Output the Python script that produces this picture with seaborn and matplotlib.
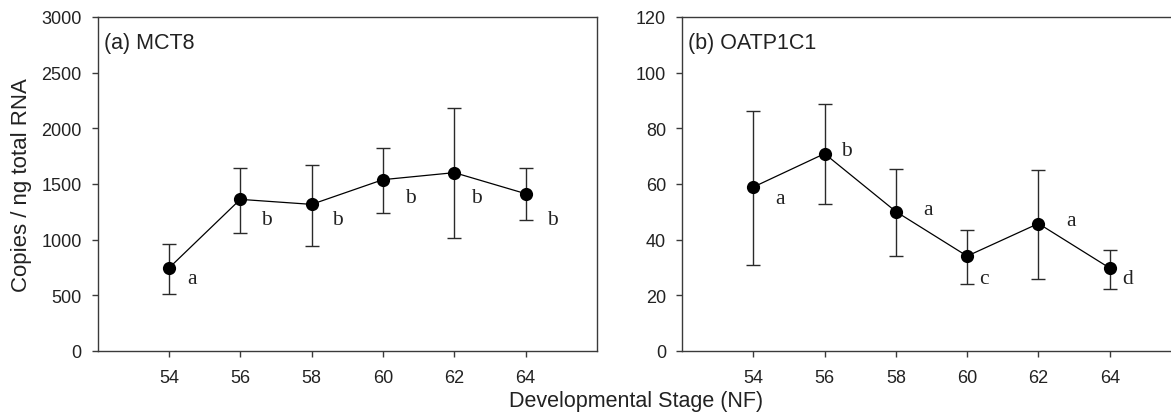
import numpy as np
import pandas as pd
import matplotlib
matplotlib.use("Agg")
import matplotlib.pyplot as plt
import seaborn as sns

# ---- data ----
stages = [54, 56, 58, 60, 62, 64]

mct8_mean = [745, 1362, 1317, 1539, 1602, 1413]
mct8_low = [514, 1061, 941, 1241, 1016, 1181]
mct8_high = [962, 1647, 1671, 1822, 2182, 1644]
mct8_letters = ["a", "b", "b", "b", "b", "b"]
mct8_letter_x = [54.65, 56.73, 58.72, 60.78, 62.61, 64.75]
mct8_letter_y = [655, 1181, 1181, 1377, 1377, 1181]

oatp_mean = [58.9, 70.9, 50.1, 34.1, 45.8, 29.8]
oatp_low = [30.8, 52.7, 34.1, 24.2, 26.0, 22.1]
oatp_high = [86.3, 88.7, 65.3, 43.6, 65.2, 36.2]
oatp_letters = ["a", "b", "a", "c", "a", "d"]
oatp_letter_x = [54.76, 56.61, 58.9, 60.46, 62.91, 64.5]
oatp_letter_y = [54.8, 71.9, 50.9, 26.2, 47.0, 26.2]

panel_titles = ["(a) MCT8", "(b) OATP1C1"]
y_limits = [(0, 3000), (0, 120)]
y_ticks = [list(range(0, 3001, 500)), list(range(0, 121, 20))]
x_ticks = [54, 56, 58, 60, 62, 64]
xlabel = "Developmental Stage (NF)"
ylabel = "Copies / ng total RNA"

sns.set_theme(style="ticks")
plt.rcParams["font.family"] = ["Liberation Sans", "DejaVu Sans"]

W, H = 1171, 414
fig = plt.figure(figsize=(W / 100, H / 100), dpi=100)

spine_col = "#3a3a3a"
text_col = "#222222"

def px_axes(x0, y0, x1, y1):
    return fig.add_axes([x0 / W, 1 - y1 / H, (x1 - x0) / W, (y1 - y0) / H])

ax1 = px_axes(97.6, 18, 597, 352)
ax2 = px_axes(682, 18, 1181, 352)

panels = [
    (ax1, mct8_mean, mct8_low, mct8_high, mct8_letters, mct8_letter_x, mct8_letter_y),
    (ax2, oatp_mean, oatp_low, oatp_high, oatp_letters, oatp_letter_x, oatp_letter_y),
]

for i, (ax, mean, low, high, letters, lx, ly) in enumerate(panels):
    df = pd.DataFrame({"stage": stages, "value": mean})
    mean_a = np.array(mean)
    yerr = np.vstack([mean_a - np.array(low), np.array(high) - mean_a])
    ax.errorbar(stages, mean, yerr=yerr, fmt="none", ecolor="#2a2a2a",
                elinewidth=1.0, capsize=5, capthick=1.0, zorder=2)
    sns.lineplot(data=df, x="stage", y="value", ax=ax, color="black",
                 linewidth=0.9, marker="o", markersize=9.5, markeredgewidth=0,
                 markerfacecolor="black", zorder=3)
    for t, x, y in zip(letters, lx, ly):
        ax.text(x, y, t, fontsize=15.5, family=["Liberation Serif", "DejaVu Serif"],
                color=text_col, ha="center", va="center")
    ax.set_xlim(52, 66)
    ax.set_ylim(*y_limits[i])
    ax.set_xticks(x_ticks)
    ax.set_yticks(y_ticks[i])
    ax.set_xlabel("")
    ax.set_ylabel("")
    for s in ax.spines.values():
        s.set_visible(True)
        s.set_color(spine_col)
        s.set_linewidth(1.0)
    ax.tick_params(axis="both", direction="out", length=4.5, width=1.0,
                   color=spine_col, labelcolor=text_col, labelsize=13)
    ax.tick_params(axis="y", pad=7)
    ax.tick_params(axis="x", pad=8.5)
    ax.tick_params(top=False, right=False)
    ax.text(0.012, 0.925, panel_titles[i], transform=ax.transAxes,
            fontsize=15.5, color=text_col, ha="left", va="center")

ax1.set_ylabel(ylabel, fontsize=16, color=text_col, labelpad=7)
fig.text(636 / W, 1 - 402 / H, xlabel, fontsize=15.5, color=text_col,
         ha="center", va="center")

fig.savefig("out.png", dpi=100)
